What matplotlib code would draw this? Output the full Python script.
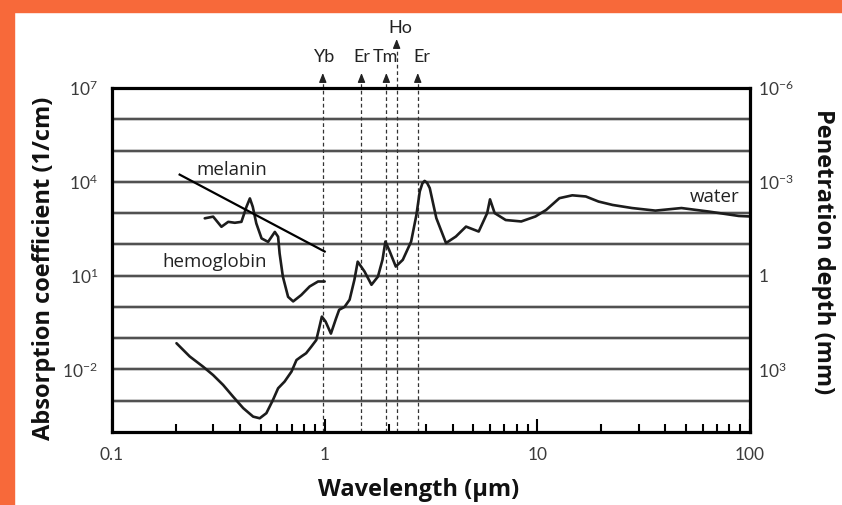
import matplotlib
matplotlib.use('Agg')
import matplotlib.pyplot as plt
from matplotlib.patches import Rectangle
from matplotlib.ticker import FixedLocator, NullFormatter

# ---------------- data ----------------
water_wl = [0.201, 0.232, 0.268, 0.299, 0.333, 0.371, 0.414, 0.461, 0.495, 0.532,
            0.571, 0.604, 0.648, 0.698, 0.737, 0.777, 0.818, 0.866, 0.913, 0.945,
            0.97, 1.01, 1.07, 1.13, 1.17, 1.24, 1.31, 1.38, 1.43, 1.54,
            1.66, 1.78, 1.87, 1.93, 2.01, 2.16, 2.33, 2.55, 2.70, 2.80,
            2.88, 2.95, 3.03, 3.12, 3.35, 3.72, 4.14, 4.62, 5.3, 5.81,
            5.99, 6.3, 7.1, 8.4, 9.8, 11.0, 12.7, 14.6, 16.9, 19.4,
            22.6, 27.9, 35.9, 47.6, 64.0, 88.5, 100.0]
water_abs = [0.069, 0.026, 0.0123, 0.0066, 0.0032, 0.00135, 0.00058, 0.00031, 0.000275, 0.0004,
             0.00105, 0.0025, 0.0041, 0.0085, 0.02, 0.026, 0.033, 0.054, 0.087, 0.23,
             0.49, 0.34, 0.14, 0.42, 0.81, 1.0, 1.7, 7.4, 28, 13.5,
             5.1, 9.3, 32, 123, 66, 19.5, 32, 123, 870, 4900,
             8900, 10700, 9300, 6300, 690, 110, 178, 370, 257, 1000,
             2750, 1000, 600, 540, 780, 1260, 3000, 3700, 3400, 2340,
             1820, 1450, 1200, 1450, 1120, 810, 780]

hemo_wl = [0.273, 0.299, 0.327, 0.352, 0.378, 0.406, 0.429, 0.445, 0.459, 0.477,
           0.505, 0.542, 0.583, 0.604, 0.614, 0.636, 0.673, 0.711, 0.776, 0.850,
           0.931, 1.0]
hemo_abs = [680, 770, 365, 525, 490, 525, 1600, 2950, 1600, 470,
            155, 120, 250, 175, 51, 9.3, 2.1, 1.5, 2.4, 4.5,
            6.5, 6.5]

melanin_wl = [0.208, 1.0]
melanin_abs = [1.7e4, 59]

laser_names = ['Yb', 'Er', 'Tm', 'Ho', 'Er']
laser_wl = [0.98, 1.49, 1.95, 2.18, 2.74]

x_ticks = [0.1, 1, 10, 100]
x_ticklabels = ['0.1', '1', '10', '100']
y_decades = [1e-4, 1e-3, 1e-2, 1e-1, 1e0, 1e1, 1e2, 1e3, 1e4, 1e5, 1e6, 1e7]
y_labeled = {1e7: r'$\mathregular{10^{7}}$', 1e4: r'$\mathregular{10^{4}}$',
             1e1: r'$\mathregular{10^{1}}$', 1e-2: r'$\mathregular{10^{-2}}$'}
depth_ticks = [1e-6, 1e-3, 1, 1e3]
depth_ticklabels = [r'$\mathregular{10^{-6}}$', r'$\mathregular{10^{-3}}$', '1',
                    r'$\mathregular{10^{3}}$']

# ---------------- style ----------------
W, H = 842, 505
plt.rcParams['mathtext.fontset'] = 'custom'
plt.rcParams['mathtext.rm'] = 'Lato'
plt.rcParams['mathtext.it'] = 'Lato:italic'
plt.rcParams['mathtext.bf'] = 'Lato:bold'
plt.rcParams['font.family'] = ['Lato', 'DejaVu Sans']

ORANGE = '#F7693A'
LINE = '#1c1c1c'
TICKC = '#3a3a3a'

fig = plt.figure(figsize=(W / 100, H / 100), dpi=100)
fig.patch.set_facecolor('white')
fig.add_artist(Rectangle((0, 0), 14 / W, 1, transform=fig.transFigure,
                         color=ORANGE, zorder=0))
fig.add_artist(Rectangle((0, 1 - 12 / H), 1, 12 / H, transform=fig.transFigure,
                         color=ORANGE, zorder=0))


def fx(px):
    return px / W


def fy(py):
    return 1 - py / H


ax = fig.add_axes([fx(112), fy(432), 638 / W, 344 / H])
ax.set_xscale('log')
ax.set_yscale('log')
ax.set_xlim(0.1, 100)
ax.set_ylim(1e-4, 1e7)

# horizontal decade lines
for v in y_decades[1:-1]:
    ax.axhline(v, color='#bcbcbc', lw=2.6, zorder=1)
    ax.axhline(v, color='#3c3c3c', lw=1.2, zorder=1.1)

# curves
for xs, ys in ((water_wl, water_abs), (hemo_wl, hemo_abs)):
    ax.plot(xs, ys, color=LINE, lw=1.9, solid_joinstyle='round',
            solid_capstyle='round', zorder=3)
ax.plot(melanin_wl, melanin_abs, color='black', lw=1.6, zorder=3)


def ylog(py):
    return 10 ** (7 - (py - 88) / 31.27)


for i, (name, wl) in enumerate(zip(laser_names, laser_wl)):
    if name == 'Ho':
        base, tip, lab = ylog(47), ylog(39), ylog(28)
    else:
        base, tip, lab = ylog(81), ylog(73), ylog(57.5)
    ax.plot([wl, wl], [1e-4, base], ls=(0, (3, 2.2)), color='#333333', lw=0.9,
            clip_on=False, zorder=2)
    ax.annotate('', xy=(wl, tip), xytext=(wl, base * 0.98),
                arrowprops=dict(arrowstyle='-|>,head_length=0.55,head_width=0.22',
                                color='#222222', lw=0.9, shrinkA=0, shrinkB=0),
                annotation_clip=False)
    dx = {0: 1.0, 1: 0.0, 2: -1.0, 3: 3.0, 4: 3.0}[i]
    ax.annotate(name, xy=(wl, lab), xytext=(dx, 0), textcoords='offset points',
                ha='center', va='center', fontsize=13, color='#222222',
                annotation_clip=False)

# ticks
ax.set_xticks(x_ticks)
ax.set_xticklabels(x_ticklabels)
ax.xaxis.set_minor_formatter(NullFormatter())
ax.tick_params(axis='x', which='both', direction='in', width=1.5, color='black',
               labelcolor=TICKC, labelsize=12.5, pad=11, top=False)
ax.tick_params(axis='x', which='major', length=9.5)
ax.tick_params(axis='x', which='minor', length=5.5)

ax.yaxis.set_major_locator(FixedLocator(y_decades))
ax.yaxis.set_minor_locator(FixedLocator([]))
ax.set_yticklabels([y_labeled.get(v, '') for v in y_decades])
ax.tick_params(axis='y', which='both', length=0, labelcolor=TICKC,
               labelsize=12.5, pad=10)

for s in ax.spines.values():
    s.set_linewidth(2.3)
    s.set_color('black')
    s.set_zorder(5)

ax2 = ax.twinx()
ax2.set_yscale('log')
ax2.set_ylim(1e5, 1e-6)
ax2.yaxis.set_major_locator(FixedLocator(depth_ticks))
ax2.yaxis.set_minor_locator(FixedLocator([]))
ax2.set_yticklabels(depth_ticklabels)
ax2.tick_params(axis='y', which='both', length=0, labelcolor=TICKC,
                labelsize=12.5, pad=6)
for s in ax2.spines.values():
    s.set_visible(False)

# curve annotations
fig.text(fx(232), fy(170), 'melanin', ha='center', va='center', fontsize=13.5,
         color='#222222', family='Open Sans')
fig.text(fx(215), fy(262), 'hemoglobin', ha='center', va='center', fontsize=13.5,
         color='#222222', family='Open Sans')
fig.text(fx(740), fy(197), 'water', ha='right', va='center', fontsize=13.5,
         color='#222222', family='Open Sans')

# axis titles
fig.text(fx(44), fy(268), 'Absorption coefficient (1/cm)', rotation=90,
         ha='center', va='center', fontsize=17, fontweight='bold',
         family='Open Sans', color='#111111')
fig.text(fx(823), fy(252), 'Penetration depth (mm)', rotation=270,
         ha='center', va='center', fontsize=17, fontweight='bold',
         family='Open Sans', color='#111111')
fig.text(fx(419), fy(490), 'Wavelength (µm)', ha='center', va='center',
         fontsize=17, fontweight='bold', family='Open Sans', color='#111111')

fig.savefig('out.png', dpi=100, facecolor='white')
